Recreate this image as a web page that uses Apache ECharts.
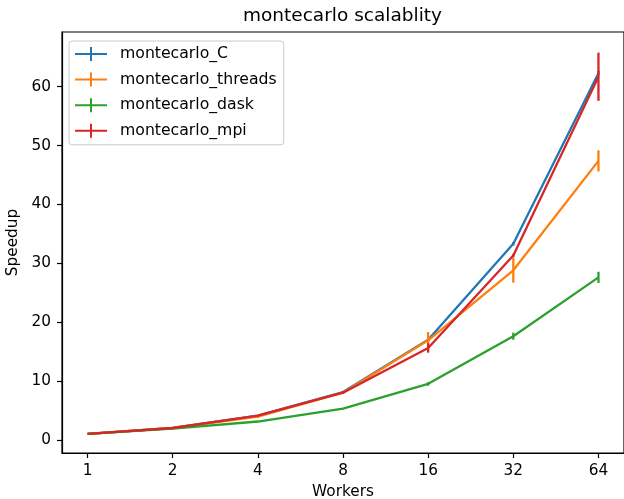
<!DOCTYPE html>
<html>
<head>
<meta charset="utf-8">
<script src="https://cdn.jsdelivr.net/npm/echarts@6/dist/echarts.min.js"></script>
<style>
html,body{margin:0;padding:0;background:#fff;}
#chart{width:624px;height:499px;}
</style>
</head>
<body>
<div id="chart"></div>
<script>
var workers = ['1', '2', '4', '8', '16', '32', '64'];
var yTickLabels = [0, 10, 20, 30, 40, 50, 60];

var cMean = [1.0, 2.0, 4.1, 8.1, 17.0, 33.3, 62.3];
var cErr = [0.0, 0.03, 0.05, 0.1, 0.2, 0.3, 0.4];
var threadsMean = [1.0, 2.0, 3.95, 8.0, 16.9, 28.8, 47.4];
var threadsErr = [0.0, 0.05, 0.25, 0.15, 1.4, 2.1, 1.8];
var daskMean = [1.0, 1.9, 3.1, 5.3, 9.5, 17.6, 27.6];
var daskErr = [0.0, 0.05, 0.1, 0.1, 0.3, 0.6, 0.95];
var mpiMean = [1.0, 2.0, 4.1, 8.0, 15.6, 31.3, 61.7];
var mpiErr = [0.0, 0.05, 0.1, 0.2, 0.8, 0.3, 4.1];

var seriesNames = ['montecarlo_C', 'montecarlo_threads', 'montecarlo_dask', 'montecarlo_mpi'];
var colors = ['#1f77b4', '#ff7f0e', '#2ca02c', '#d62728'];
var means = [cMean, threadsMean, daskMean, mpiMean];
var errs = [cErr, threadsErr, daskErr, mpiErr];

var FONT = 'DejaVu Sans';
var plusIcon = 'path://M0,6h32v2h-32zM15,0h2v14h-2z';

var series = [];
means.forEach(function (m, k) {
  series.push({
    name: seriesNames[k],
    type: 'line',
    data: m.map(function (v, i) { return [i, v]; }),
    showSymbol: false,
    symbol: 'none',
    lineStyle: { color: colors[k], width: 2.3 },
    itemStyle: { color: colors[k] },
    animation: false,
    z: 2 + k * 2
  });
  series.push({
    name: seriesNames[k] + '_err',
    type: 'custom',
    data: m.map(function (v, i) { return [i, v, errs[k][i]]; }),
    renderItem: function (params, api) {
      var x = api.value(0), v = api.value(1), e = api.value(2);
      var p1 = api.coord([x, v - e]);
      var p2 = api.coord([x, v + e]);
      return {
        type: 'line',
        shape: { x1: p1[0], y1: p1[1], x2: p2[0], y2: p2[1] },
        style: { stroke: colors[k], lineWidth: 2.3 }
      };
    },
    animation: false,
    silent: true,
    z: 3 + k * 2
  });
});

var chart = echarts.init(document.getElementById('chart'), null, { renderer: 'canvas' });
chart.setOption({
  backgroundColor: '#ffffff',
  animation: false,
  title: {
    text: 'montecarlo scalablity',
    left: 243,
    top: 7,
    padding: 0,
    textStyle: { fontFamily: FONT, fontSize: 18.5, fontWeight: 'normal', color: '#000' }
  },
  legend: {
    orient: 'vertical',
    left: 69,
    top: 41,
    data: seriesNames,
    icon: plusIcon,
    itemWidth: 32,
    itemHeight: 14,
    itemGap: 9.6,
    padding: [5, 7, 6, 6],
    backgroundColor: 'rgba(255,255,255,0.8)',
    borderColor: '#cccccc',
    borderWidth: 1,
    borderRadius: 3,
    textStyle: { fontFamily: FONT, fontSize: 15.7, color: '#000', padding: [0, 0, 0, 8] }
  },
  grid: {
    left: 62, right: 0, top: 32, bottom: 46,
    containLabel: false,
    outerBoundsMode: 'none',
    show: true, borderColor: '#000', borderWidth: 1.2, backgroundColor: 'transparent'
  },
  xAxis: {
    type: 'value',
    min: -0.3,
    max: 6.3,
    name: 'Workers',
    nameLocation: 'middle',
    nameGap: 32,
    nameTextStyle: { fontFamily: FONT, fontSize: 15.3, color: '#000' },
    axisLine: { show: true, onZero: false, lineStyle: { color: '#000', width: 1.2 } },
    axisTick: { show: true, inside: false, length: 5, lineStyle: { color: '#000', width: 1.2 },
      customValues: [0, 1, 2, 3, 4, 5, 6] },
    axisLabel: { fontFamily: FONT, fontSize: 15.3, color: '#000', margin: 11,
      customValues: [0, 1, 2, 3, 4, 5, 6],
      formatter: function (v) { return workers[Math.round(v)]; } },
    splitLine: { show: false }
  },
  yAxis: {
    type: 'value',
    min: -2.25,
    max: 69.3,
    name: 'Speedup',
    nameLocation: 'middle',
    nameGap: 36,
    nameTextStyle: { fontFamily: FONT, fontSize: 15.3, color: '#000' },
    axisLine: { show: true, onZero: false, lineStyle: { color: '#000', width: 1.2 } },
    axisTick: { show: true, inside: false, length: 5, lineStyle: { color: '#000', width: 1.2 },
      customValues: yTickLabels },
    axisLabel: { fontFamily: FONT, fontSize: 15.3, color: '#000', margin: 11,
      customValues: yTickLabels,
      formatter: function (v) { return String(v); } },
    splitLine: { show: false }
  },
  series: series
});
</script>
</body>
</html>
